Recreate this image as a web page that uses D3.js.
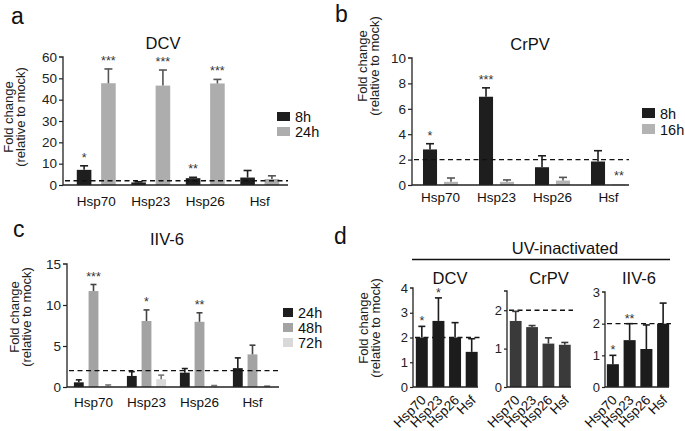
<!DOCTYPE html>
<html><head><meta charset="utf-8">
<script src="https://cdn.jsdelivr.net/npm/d3@7/dist/d3.min.js"></script>
<style>
body{margin:0;background:#fff;}
svg{display:block;font-family:"Liberation Sans",Arial,Helvetica,sans-serif;}
</style></head>
<body><svg id="c" width="685" height="431"></svg>
<script>
// ---------- data ----------
const genes = ["Hsp70","Hsp23","Hsp26","Hsf"];

// panel a: DCV
const dcvSeries = ["8h","24h"];
const dcv8h = [7.1, 1.2, 3.2, 3.5];
const dcv8hErr = [1.9, 0.3, 0.4, 3.3];
const dcv24h = [47.7, 46.6, 47.6, 2.8];
const dcv24hErr = [6.7, 7.3, 1.9, 1.5];
const dcv8hSig = ["*","","**",""];
const dcv24hSig = ["***","***","***",""];
const dcvTicks = [0,10,20,30,40,50,60];

// panel b: CrPV
const crpvSeries = ["8h","16h"];
const crpv8h = [2.8, 6.95, 1.4, 1.85];
const crpv8hErr = [0.45, 0.7, 0.9, 0.85];
const crpv16h = [0.25, 0.25, 0.35, 0.04];
const crpv16hErr = [0.3, 0.15, 0.25, 0.0];
const crpv8hSig = ["*","***","",""];
const crpv16hSig = ["","","","**"];
const crpvTicks = [0,2,4,6,8,10];

// panel c: IIV-6
const iivSeries = ["24h","48h","72h"];
const iiv24h = [0.57, 1.35, 1.75, 2.3];
const iiv24hErr = [0.3, 0.52, 0.5, 1.25];
const iiv48h = [11.7, 8.05, 7.95, 3.98];
const iiv48hErr = [0.8, 1.35, 1.1, 1.12];
const iiv72h = [0.05, 0.95, 0.08, 0.03];
const iiv72hErr = [0.2, 0.5, 0.1, 0.08];
const iiv48hSig = ["***","*","**",""];
const iivTicks = [0,5,10,15];

// panel d: UV-inactivated
const uvDcv = [2.0, 2.67, 2.0, 1.42];
const uvDcvErr = [0.45, 0.93, 0.6, 0.53];
const uvDcvSig = ["*","*","",""];
const uvDcvTicks = [0,1,2,3,4];
const uvCrpv = [1.72, 1.56, 1.13, 1.1];
const uvCrpvErr = [0.25, 0.04, 0.15, 0.06];
const uvCrpvSig = ["","","",""];
const uvCrpvTicks = [0,1,2];
const uvIiv = [0.72, 1.48, 1.2, 2.0];
const uvIivErr = [0.28, 0.52, 0.76, 0.65];
const uvIivSig = ["*","**","",""];
const uvIivTicks = [0,1,2,3];

// ---------- drawing ----------
const svg = d3.select("#c");
const FONT = '"Liberation Sans",Arial,Helvetica,sans-serif';

function yLabel(cx, cy, gap) {
  const g = svg.append("g").attr("transform", `translate(${cx},${cy}) rotate(-90)`)
    .attr("font-size", 13).attr("fill", "#222").attr("text-anchor", "middle");
  g.append("text").attr("x", 0).attr("y", 0).text("Fold change");
  g.append("text").attr("x", 0).attr("y", gap).text("(relative to mock)");
}

function panelLetter(x, y, t) {
  svg.append("text").attr("x", x).attr("y", y).attr("font-size", 23).attr("fill", "#111").text(t);
}

function title(x, y, t) {
  svg.append("text").attr("x", x).attr("y", y).attr("font-size", 16.5).attr("fill", "#111")
    .attr("text-anchor", "middle").text(t);
}

function yAxis(y, x0, ticks, fs, len) {
  const ax = d3.axisLeft(y).tickValues(ticks).tickFormat(d3.format("d")).tickSize(len).tickPadding(2);
  const g = svg.append("g").attr("transform", `translate(${x0},0)`).call(ax);
  g.select(".domain").attr("stroke", "#222").attr("stroke-width", 1.3)
    .attr("d", `M${-len},${y(y.domain()[1])}H0V${y(0)}`);
  g.selectAll(".tick line").attr("stroke", "#222").attr("stroke-width", 1.2);
  g.selectAll(".tick text").attr("font-size", fs).attr("font-family", FONT).attr("fill", "#222");
  g.selectAll(".tick").filter(d => d === y.domain()[1]).select("line").remove();
  return g;
}

function xLine(y0, xa, xb) {
  svg.append("line").attr("x1", xa).attr("x2", xb).attr("y1", y0).attr("y2", y0)
    .attr("stroke", "#222").attr("stroke-width", 1.4);
}

function dashed(y, v, xa, xb) {
  svg.append("line").attr("x1", xa).attr("x2", xb).attr("y1", y(v)).attr("y2", y(v))
    .attr("stroke", "#111").attr("stroke-width", 1.4).attr("stroke-dasharray", "5,3.5");
}

function bars(xpos, bw, y, vals, errs, sigs, fill, errColor, capW, sigOff) {
  const g = svg.append("g");
  const off = sigOff === undefined ? 4 : sigOff;
  genes.forEach((c, i) => {
    const x = xpos(c);
    const v = vals[i];
    g.append("rect").attr("x", x).attr("width", bw)
      .attr("y", y(v)).attr("height", Math.max(y(0) - y(v), 0.8)).attr("fill", fill);
    const e = errs[i];
    const cx = x + bw / 2;
    if (e > 0) {
      g.append("line").attr("x1", cx).attr("x2", cx).attr("y1", y(v)).attr("y2", y(v + e))
        .attr("stroke", errColor).attr("stroke-width", 1.6);
      g.append("line").attr("x1", cx - capW / 2).attr("x2", cx + capW / 2)
        .attr("y1", y(v + e)).attr("y2", y(v + e))
        .attr("stroke", errColor).attr("stroke-width", 1.6);
    }
    if (sigs && sigs[i]) {
      g.append("text").attr("x", cx).attr("y", y(v + e) - off).attr("text-anchor", "middle")
        .attr("font-size", 12.5).attr("fill", "#333").text(sigs[i]);
    }
  });
}

function legend(x, y, step, series, colors, sw, sh) {
  series.forEach((s, i) => {
    svg.append("rect").attr("x", x).attr("y", y + i * step - sh).attr("width", sw).attr("height", sh)
      .attr("fill", colors[i]);
    svg.append("text").attr("x", x + sw + 5).attr("y", y + i * step + 1).attr("font-size", 14.5)
      .attr("fill", "#111").text(s);
  });
}

function xLabels(x0, y0) {
  genes.forEach(c => {
    svg.append("text").attr("x", x0(c) + x0.bandwidth() / 2).attr("y", y0)
      .attr("text-anchor", "middle").attr("font-size", 13.5).attr("fill", "#111").text(c);
  });
}

// ----- panel a -----
{
  const y = d3.scaleLinear().domain([0, 60]).range([185, 57]);
  const x0 = d3.scaleBand().domain(genes).range([69, 287]);
  const x1 = d3.scaleBand().domain(dcvSeries).range([0, x0.bandwidth()]).paddingInner(0.4).paddingOuter(0.32);
  panelLetter(11, 24, "a");
  title(163, 49, "DCV");
  yLabel(12.5, 117, 12);
  yAxis(y, 63, dcvTicks, 13.5, 4);
  bars(c => x0(c) + x1("8h"), x1.bandwidth(), y, dcv8h, dcv8hErr, dcv8hSig, "#1e1e1e", "#1e1e1e", 8);
  bars(c => x0(c) + x1("24h"), x1.bandwidth(), y, dcv24h, dcv24hErr, dcv24hSig, "#adadad", "#555", 8);
  xLine(185, 63, 288);
  dashed(y, 2, 65, 288);
  xLabels(x0, 206);
  legend(277, 121, 15, dcvSeries, ["#1e1e1e", "#adadad"], 13, 9);
}

// ----- panel b -----
{
  const y = d3.scaleLinear().domain([0, 10]).range([185, 58]);
  const x0 = d3.scaleBand().domain(genes).range([412.5, 636.5]);
  const x1 = d3.scaleBand().domain(crpvSeries).range([0, x0.bandwidth()]).paddingInner(0.33).paddingOuter(0.5);
  panelLetter(335, 22, "b");
  title(530, 50, "CrPV");
  yLabel(367, 66, 12);
  yAxis(y, 412, crpvTicks, 13.5, 4);
  bars(c => x0(c) + x1("8h"), x1.bandwidth(), y, crpv8h, crpv8hErr, crpv8hSig, "#1e1e1e", "#1e1e1e", 8);
  bars(c => x0(c) + x1("16h"), x1.bandwidth(), y, crpv16h, crpv16hErr, crpv16hSig, "#b3b3b3", "#555", 8);
  xLine(185, 412, 629);
  dashed(y, 2, 414, 629);
  xLabels(x0, 202);
  legend(642, 118, 16, crpvSeries, ["#1e1e1e", "#b3b3b3"], 13, 10);
}

// ----- panel c -----
{
  const y = d3.scaleLinear().domain([0, 15]).range([387, 264]);
  const x0 = d3.scaleBand().domain(genes).range([67, 279]);
  const x1 = d3.scaleBand().domain(iivSeries).range([0, x0.bandwidth()]).paddingInner(0.33).paddingOuter(0.47);
  panelLetter(13, 237, "c");
  title(167, 245, "IIV-6");
  yLabel(18.5, 317, 12);
  yAxis(y, 67, iivTicks, 13.5, 4);
  bars(c => x0(c) + x1("24h"), x1.bandwidth(), y, iiv24h, iiv24hErr, null, "#1e1e1e", "#1e1e1e", 6);
  bars(c => x0(c) + x1("48h"), x1.bandwidth(), y, iiv48h, iiv48hErr, iiv48hSig, "#a3a3a3", "#444", 6);
  bars(c => x0(c) + x1("72h"), x1.bandwidth(), y, iiv72h, iiv72hErr, null, "#d9d9d9", "#777", 6);
  xLine(387, 67, 279);
  dashed(y, 2, 69, 279);
  xLabels(x0, 407);
  legend(283, 317, 15, iivSeries, ["#1e1e1e", "#a3a3a3", "#d9d9d9"], 10, 9);
}

// ----- panel d -----
{
  panelLetter(334, 244, "d");
  svg.append("text").attr("x", 565).attr("y", 254).attr("text-anchor", "middle")
    .attr("font-size", 16.5).attr("fill", "#111").text("UV-inactivated");
  svg.append("line").attr("x1", 412).attr("x2", 670).attr("y1", 259.5).attr("y2", 259.5)
    .attr("stroke", "#111").attr("stroke-width", 1.3);
  yLabel(368, 328, 12);

  const subs = [
    {t: "DCV", tx: 450, ax: 413, r: [413.5, 480], max: 4, top: 288, vals: uvDcv, errs: uvDcvErr, sig: uvDcvSig, ticks: uvDcvTicks, fill: "#1c1c1c", end: 478},
    {t: "CrPV", tx: 549, ax: 507, r: [507.5, 573], max: 2.5, top: 291, vals: uvCrpv, errs: uvCrpvErr, sig: uvCrpvSig, ticks: uvCrpvTicks, fill: "#3a3a3a", end: 571},
    {t: "IIV-6", tx: 639, ax: 605, r: [604.5, 671.5], max: 3, top: 292, vals: uvIiv, errs: uvIivErr, sig: uvIivSig, ticks: uvIivTicks, fill: "#1c1c1c", end: 669}
  ];
  subs.forEach(s => {
    const y = d3.scaleLinear().domain([0, s.max]).range([387, s.top]);
    const x0 = d3.scaleBand().domain(genes).range(s.r).paddingInner(0.28).paddingOuter(0.14);
    title(s.tx, 284, s.t);
    yAxis(y, s.ax, s.ticks, 13, 3);
    dashed(y, 2, s.ax + 2, s.end + 2);
    bars(c => x0(c), x0.bandwidth(), y, s.vals, s.errs, s.sig, s.fill, s.fill, 7, 1);
    xLine(387, s.ax, s.end);
    genes.forEach(c => {
      const cx = x0(c) + x0.bandwidth() / 2 + 5;
      svg.append("text").attr("transform", `translate(${cx},401) rotate(-45)`)
        .attr("text-anchor", "end").attr("font-size", 13.5).attr("fill", "#111").text(c);
    });
  });
}
</script></body></html>
